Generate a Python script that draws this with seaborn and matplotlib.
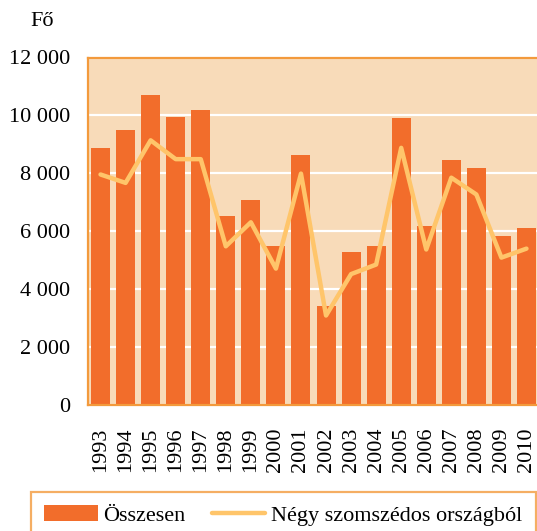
import matplotlib
matplotlib.use("Agg")
import matplotlib.pyplot as plt
import matplotlib.ticker as mticker
import seaborn as sns
import pandas as pd

# adatok
years = [str(y) for y in range(1993, 2011)]
osszesen = [8870, 9480, 10720, 9960, 10170, 6520, 7070, 5480, 8650,
            3410, 5280, 5480, 9900, 6170, 8450, 8170, 5830, 6100]
negy_szomszedos = [7960, 7670, 9140, 8490, 8490, 5480, 6310, 4710, 7990,
                   3090, 4520, 4850, 8880, 5370, 7850, 7270, 5090, 5400]

bar_color = '#F26D2B'
line_color = '#FFC56A'
bg_color = '#F8DBB9'
frame_color = '#F39A3C'

df = pd.DataFrame({'ev': years, 'osszesen': osszesen, 'negy': negy_szomszedos})

sns.set_style('white', rc={'text.color': 'black', 'xtick.color': 'black',
                           'ytick.color': 'black'})
plt.rcParams['font.family'] = ['Liberation Serif', 'DejaVu Serif']

fig = plt.figure(figsize=(5.37, 5.31), dpi=100)
ax = fig.add_axes([88 / 537, 1 - 405 / 531, 451 / 537, 347.5 / 531])
ax.set_facecolor(bg_color)

sns.barplot(data=df, x='ev', y='osszesen', color=bar_color, width=0.76,
            saturation=1, linewidth=0, edgecolor=bar_color,
            label='Összesen', ax=ax, zorder=2)
sns.lineplot(data=df, x='ev', y='negy', color=line_color, linewidth=3.2,
             label='Négy szomszédos országból', ax=ax, zorder=3)

ax.set_ylim(0, 12000)
ax.set_xlim(-0.5, 17.5)
ax.set_yticks(range(0, 12001, 2000))
ax.yaxis.set_major_formatter(
    mticker.FuncFormatter(lambda v, p: f'{int(v):,}'.replace(',', ' ')))
ax.grid(axis='y', color='white', linewidth=1.6, zorder=1)
ax.set_axisbelow(True)
ax.set_xlabel('')
ax.set_ylabel('')
ax.tick_params(axis='y', length=0, pad=13, labelsize=16, labelcolor='black')
ax.tick_params(axis='x', length=0, pad=16, labelsize=16, labelrotation=90,
               labelcolor='black')

for side in ['left', 'top', 'bottom', 'right']:
    ax.spines[side].set_color(frame_color)
    ax.spines[side].set_linewidth(1.6)
    ax.spines[side].set_visible(True)

fig.text(30 / 537, 1 - 21 / 531, 'Fő', fontsize=16, va='center', ha='left',
         color='black')

handles, labels = ax.get_legend_handles_labels()
order = [labels.index('Összesen'), labels.index('Négy szomszédos országból')]
ax.get_legend().remove()
leg = fig.legend([handles[i] for i in order], [labels[i] for i in order],
                 loc='upper left',
                 bbox_to_anchor=(31 / 537, 1 - 492 / 531), ncol=2,
                 fontsize=16, frameon=True, fancybox=False, borderaxespad=0,
                 borderpad=0.6, handlelength=2.4, handletextpad=0.25,
                 columnspacing=1.2, labelcolor='black')
leg.get_frame().set_edgecolor(frame_color)
leg.get_frame().set_linewidth(1.6)

fig.savefig('out.png', dpi=100)
